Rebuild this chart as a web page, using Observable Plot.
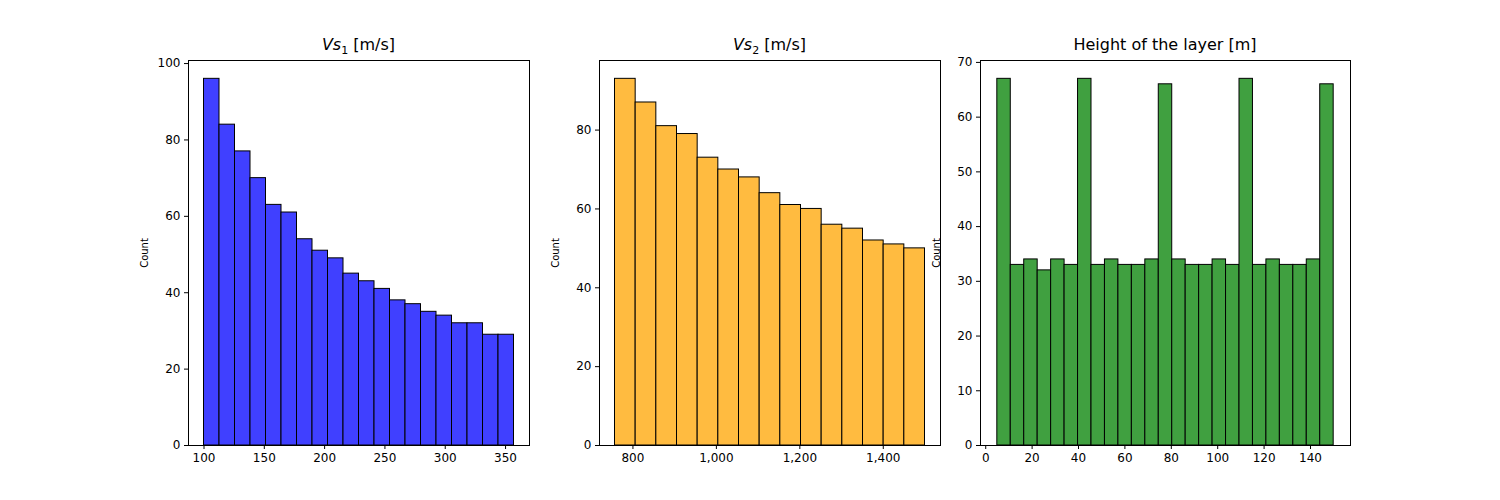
<!DOCTYPE html>
<html><head><meta charset="utf-8">
<script src="https://cdn.jsdelivr.net/npm/d3@7"></script>
<script src="https://cdn.jsdelivr.net/npm/@observablehq/plot@0.6"></script>
<style>
body{margin:0;background:#fff;font-family:"DejaVu Sans",sans-serif;}
#wrap{position:relative;width:1500px;height:500px;}
#wrap svg{position:absolute;top:0;}
.t{position:absolute;top:35px;font-size:16px;text-align:center;color:#000;}
</style></head><body>
<div id="wrap"></div>
<script>
const vs1Counts=[96,84,77,70,63,61,54,51,49,45,43,41,38,37,35,34,32,32,29,29];
const vs1Range=[100,357];
const vs2Counts=[93,87,81,79,73,70,68,64,61,60,56,55,52,51,50];
const vs2Range=[757,1500];
const hCounts=[67,33,34,32,34,33,67,33,34,33,33,34,66,34,33,33,34,33,67,33,34,33,33,34,66];
const hRange=[5,150];
const titles=['<i>Vs</i><sub style="font-size:11px">1</sub> [m/s]','<i>Vs</i><sub style="font-size:11px">2</sub> [m/s]','Height of the layer [m]'];
const xTicks=[[100,150,200,250,300,350],[800,1000,1200,1400],[0,20,40,60,80,100,120,140]];
const yTicks=[[0,20,40,60,80,100],[0,20,40,60,80],[0,10,20,30,40,50,60,70]];
const colors=["#4040ff","#ffbb40","#40a040"];

const panels=[[vs1Counts,vs1Range,188],[vs2Counts,vs2Range,599],[hCounts,hRange,980]];
const wrap=document.getElementById('wrap');
panels.forEach(([counts,[lo,hi],axL],i)=>{
  const w=(hi-lo)/counts.length;
  const data=counts.map((c,j)=>({x1:lo+j*w,x2:lo+(j+1)*w,y:c}));
  const pad=(hi-lo)*0.05;
  const ml=60, pw=i==2?370:341;
  const chart=Plot.plot({
    width:ml+pw+20,height:500,marginLeft:ml,marginRight:20,marginTop:60,marginBottom:55,
    style:{fontFamily:"DejaVu Sans",fontSize:"10px",color:"#000"},
    x:{domain:[lo-pad,hi+pad],ticks:xTicks[i],tickSize:4,label:null,tickPadding:4},
    y:{domain:[0,d3.max(counts)*1.05],ticks:yTicks[i],tickSize:4,label:"Count",labelAnchor:"center",labelArrow:"none",labelOffset:48,tickPadding:4},
    marks:[
      Plot.rectY(data,{x1:"x1",x2:"x2",y:"y",fill:colors[i],stroke:"#000",strokeWidth:1,inset:0}),
      Plot.frame({stroke:"#000"})
    ]
  });
  chart.style.left=(axL-ml)+"px";
  chart.querySelectorAll('[aria-label="x-axis tick label"] text, [aria-label="y-axis tick label"] text').forEach(t=>t.style.fontSize="12px");
  wrap.appendChild(chart);
  const t=document.createElement('div');t.className='t';t.innerHTML=titles[i];
  t.style.left=axL+"px";t.style.width=pw+"px";wrap.appendChild(t);
});
</script></body></html>
